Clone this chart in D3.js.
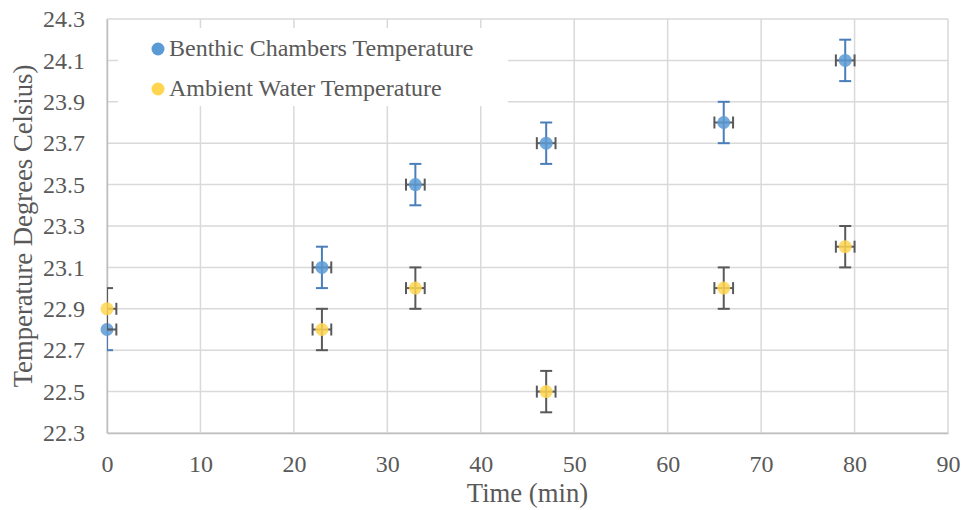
<!DOCTYPE html>
<html>
<head>
<meta charset="utf-8">
<script src="https://cdn.jsdelivr.net/npm/d3@7"></script>
<style>
  body { margin: 0; background: #fff; }
  svg text { font-family: "Liberation Serif", "Times New Roman", serif; fill: #595959; }
</style>
</head>
<body>
<div id="wrapper"></div>
<script>
// chart data
const times = [0, 23, 33, 47, 66, 79];
const benthicTemps = [22.8, 23.1, 23.5, 23.7, 23.8, 24.1];
const ambientTemps = [22.9, 22.8, 23.0, 22.5, 23.0, 23.2];
const yError = 0.1;
const xError = 1;
const xTicks = [0, 10, 20, 30, 40, 50, 60, 70, 80, 90];
const yTicks = [22.3, 22.5, 22.7, 22.9, 23.1, 23.3, 23.5, 23.7, 23.9, 24.1, 24.3];
const seriesNames = ["Benthic Chambers Temperature", "Ambient Water Temperature"];

const fontStack = '"Liberation Serif", "Times New Roman", serif';

let dimensions = {
    width: 964,
    height: 510,
    margin: { top: 19, left: 107, bottom: 77, right: 16 }
}
dimensions.boundedWidth = dimensions.width - dimensions.margin.left - dimensions.margin.right;
dimensions.boundedHeight = dimensions.height - dimensions.margin.top - dimensions.margin.bottom;

const wrapper = d3.select("#wrapper").append("svg")
    .attr("width", dimensions.width)
    .attr("height", dimensions.height);
const container = wrapper.append("g")
    .attr("transform", `translate(${dimensions.margin.left}, ${dimensions.margin.top})`);

const xScaler = d3.scaleLinear().domain([0, 90]).range([0, dimensions.boundedWidth]);
const yScaler = d3.scaleLinear().domain([22.3, 24.3]).range([dimensions.boundedHeight, 0]);

// gridlines
container.append("g")
    .selectAll("line")
    .data(xTicks)
    .join("line")
    .attr("x1", d => xScaler(d)).attr("x2", d => xScaler(d))
    .attr("y1", 0).attr("y2", dimensions.boundedHeight)
    .attr("stroke", "#d9d9d9").attr("stroke-width", 1.5);
container.append("g")
    .selectAll("line")
    .data(yTicks)
    .join("line")
    .attr("x1", 0).attr("x2", dimensions.boundedWidth)
    .attr("y1", d => yScaler(d)).attr("y2", d => yScaler(d))
    .attr("stroke", "#d9d9d9").attr("stroke-width", 1.5);

// axes (labels + axis lines)
const xAxis = container.append("g")
    .attr("transform", `translate(0, ${dimensions.boundedHeight})`)
    .call(d3.axisBottom(xScaler).tickValues(xTicks).tickSize(0).tickPadding(22));
const yAxis = container.append("g")
    .call(d3.axisLeft(yScaler).tickValues(yTicks).tickFormat(d3.format(".1f")).tickSize(0).tickPadding(22));
[xAxis, yAxis].forEach(a => {
    a.attr("font-family", fontStack).attr("font-size", 24);
    a.select(".domain").attr("stroke", "#bfbfbf").attr("stroke-width", 1.5);
    a.selectAll("text").attr("fill", "#595959");
});

// axis titles
container.append("text")
    .attr("x", dimensions.boundedWidth / 2)
    .attr("y", dimensions.boundedHeight + 69)
    .attr("text-anchor", "middle")
    .style("font-size", "26.7px")
    .text("Time (min)");
container.append("text")
    .attr("transform", `translate(-75, ${dimensions.boundedHeight / 2}) rotate(-90)`)
    .attr("text-anchor", "middle")
    .style("font-size", "26.7px")
    .text("Temperature Degrees Celsius)");

// clip for error bars at plot edge
wrapper.append("defs").append("clipPath").attr("id", "plotClip")
    .append("rect").attr("x", 0).attr("y", 0)
    .attr("width", dimensions.boundedWidth).attr("height", dimensions.boundedHeight);

const series = [
    { name: seriesNames[0], values: benthicTemps, fill: "#5b9bd5", vColor: "#4a7ebb" },
    { name: seriesNames[1], values: ambientTemps, fill: "#ffd54f", vColor: "#595959" }
];
const cap = 6;

series.forEach(s => {
    const pts = times.map((t, i) => ({ x: t, y: s.values[i] }));
    const g = container.append("g").attr("clip-path", "url(#plotClip)");

    // vertical error bars
    const v = g.append("g").attr("stroke", s.vColor).attr("stroke-width", 2);
    v.selectAll("line.v").data(pts).join("line").attr("class", "v")
        .attr("x1", d => xScaler(d.x)).attr("x2", d => xScaler(d.x))
        .attr("y1", d => yScaler(d.y - yError)).attr("y2", d => yScaler(d.y + yError));
    v.selectAll("line.vt").data(pts).join("line").attr("class", "vt")
        .attr("x1", d => xScaler(d.x) - cap).attr("x2", d => xScaler(d.x) + cap)
        .attr("y1", d => yScaler(d.y + yError)).attr("y2", d => yScaler(d.y + yError));
    v.selectAll("line.vb").data(pts).join("line").attr("class", "vb")
        .attr("x1", d => xScaler(d.x) - cap).attr("x2", d => xScaler(d.x) + cap)
        .attr("y1", d => yScaler(d.y - yError)).attr("y2", d => yScaler(d.y - yError));

    // horizontal error bars
    const h = g.append("g").attr("stroke", "#595959").attr("stroke-width", 2);
    h.selectAll("line.h").data(pts).join("line").attr("class", "h")
        .attr("x1", d => xScaler(d.x - xError)).attr("x2", d => xScaler(d.x + xError))
        .attr("y1", d => yScaler(d.y)).attr("y2", d => yScaler(d.y));
    h.selectAll("line.hl").data(pts).join("line").attr("class", "hl")
        .attr("x1", d => xScaler(d.x - xError)).attr("x2", d => xScaler(d.x - xError))
        .attr("y1", d => yScaler(d.y) - cap).attr("y2", d => yScaler(d.y) + cap);
    h.selectAll("line.hr").data(pts).join("line").attr("class", "hr")
        .attr("x1", d => xScaler(d.x + xError)).attr("x2", d => xScaler(d.x + xError))
        .attr("y1", d => yScaler(d.y) - cap).attr("y2", d => yScaler(d.y) + cap);

    // markers
    container.append("g").selectAll("circle").data(pts).join("circle")
        .attr("cx", d => xScaler(d.x))
        .attr("cy", d => yScaler(d.y))
        .attr("r", 6.5)
        .attr("fill", s.fill)
        .attr("fill-opacity", 0.85);
});

// legend
const legend = container.append("g").attr("transform", "translate(11, 9)");
legend.append("rect")
    .attr("width", 390).attr("height", 78)
    .attr("fill", "#fff");
series.forEach((s, i) => {
    const row = legend.append("g").attr("transform", `translate(0, ${21 + i * 40})`);
    row.append("circle").attr("cx", 40).attr("cy", 0).attr("r", 6.5).attr("fill", s.fill);
    row.append("text")
        .attr("x", 51).attr("y", 7)
        .style("font-size", "24px")
        .text(s.name);
});
</script>
</body>
</html>
